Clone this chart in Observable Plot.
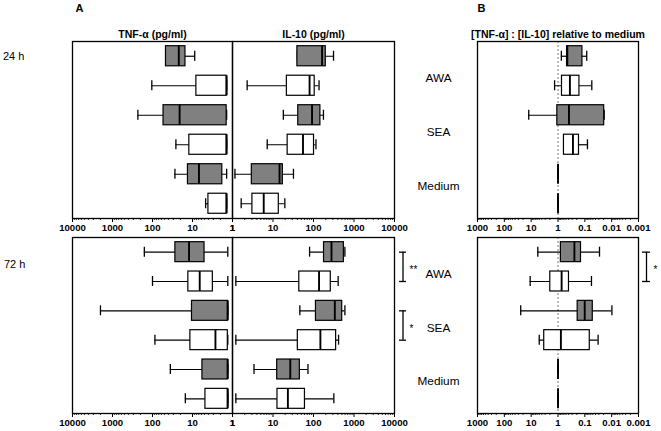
<!DOCTYPE html>
<html><head><meta charset="utf-8">
<script src="https://cdn.jsdelivr.net/npm/d3@7"></script>
<script src="https://cdn.jsdelivr.net/npm/@observablehq/plot@0.6"></script>
<style>
body{margin:0;background:#fff;}
#fig{position:relative;width:661px;height:431px;font-family:"Liberation Sans",Arial,sans-serif;color:#000;}
#fig svg [aria-label="x-axis tick label"], #fig svg [aria-label="x-axis tick label"] text{font-size:9.6px !important;font-weight:bold !important;font-family:"Liberation Sans",Arial,sans-serif !important;}
.lbl{position:absolute;white-space:nowrap;line-height:1;}
</style></head><body><div id="fig"></div>
<script>
// ---------- data ----------
const rowCondition = ["AWA","AWA","SEA","SEA","Medium","Medium"];
const rowGroup = ["Group 1","Group 2","Group 1","Group 2","Group 1","Group 2"];
const groups = ["Group 1","Group 2"];
const ticksA = [1, 10, 100, 1000, 10000];
const ticksB = [0.001, 0.01, 0.1, 1, 10, 100, 1000];
const titleTNF = "TNF-α (pg/ml)";
const titleIL10 = "IL-10 (pg/ml)";
const titleRatio = "[TNF-α] : [IL-10] relative to medium";

// 24 h, TNF-α (pg/ml)
const tnf24_lo  = [8.8, 1.4, 1.4, 1.4, 1.4, 1.4];
const tnf24_q1  = [15, 1.4, 1.4, 1.4, 1.8, 1.4];
const tnf24_med = [22, 1.4, 21, 1.4, 6.9, 1.4];
const tnf24_q3  = [46, 8.0, 53, 12, 13, 4.0];
const tnf24_hi  = [46, 104, 232, 26, 27.5, 4.7];
// 24 h, IL-10 (pg/ml)
const il24_lo  = [40, 2.3, 18, 7.2, 1.15, 1.64];
const il24_q1  = [40, 22, 42, 23, 3.0, 3.1];
const il24_med = [163, 80, 92, 55, 14.5, 5.9];
const il24_q3  = [201, 107, 148, 103, 17.5, 13.9];
const il24_hi  = [312, 137, 176, 115, 32, 19.6];
// 24 h, ratio relative to medium
const r24_lo  = [0.085, 0.055, 0.019, 0.080, 1, 1];
const r24_q1  = [0.123, 0.159, 0.019, 0.165, 1, 1];
const r24_med = [0.45, 0.36, 0.39, 0.277, 1, 1];
const r24_q3  = [0.46, 0.71, 1.06, 0.60, 1, 1];
const r24_hi  = [0.75, 1.34, 12.3, 0.60, 1, 1];
// 72 h, TNF-α (pg/ml)
const tnf72_lo  = [1.31, 1.31, 1.31, 1.31, 1.31, 1.31];
const tnf72_q1  = [5.0, 3.1, 1.31, 1.31, 1.31, 1.31];
const tnf72_med = [12.2, 6.6, 1.31, 2.67, 1.31, 1.31];
const tnf72_q3  = [26.8, 12.7, 10.3, 11.3, 5.65, 4.75];
const tnf72_hi  = [160, 100, 2000, 87, 35.8, 15.1];
// 72 h, IL-10 (pg/ml)
const il72_lo  = [80, 1.21, 46, 1.21, 3.4, 1.21];
const il72_q1  = [182, 44.6, 115, 41, 12.7, 12.9];
const il72_med = [278, 137, 336, 148, 26.7, 23.3];
const il72_q3  = [562, 267, 511, 362, 46, 61.5];
const il72_hi  = [596, 406, 596, 416, 73, 318];
// 72 h, ratio relative to medium
const r72_lo  = [0.0284, 0.0566, 0.0098, 0.032, 1, 1];
const r72_q1  = [0.139, 0.39, 0.0506, 0.0655, 1, 1];
const r72_med = [0.245, 0.733, 0.101, 0.78, 1, 1];
const r72_q3  = [0.78, 1.94, 0.185, 3.26, 1, 1];
const r72_hi  = [5.66, 10.9, 24.5, 5.0, 1, 1];

// significance brackets (rows joined, label)
const sigA72 = [{from: 0, to: 1, label: "**"}, {from: 2, to: 3, label: "*"}];
const sigB72 = [{from: 0, to: 1, label: "*"}];

// ---------- drawing ----------
const W = 661, H = 431;
const FONT = "Liberation Sans, Arial, Helvetica, sans-serif";
const fig = document.getElementById("fig");
const BOX = 0.34, CAP = 0.17;

function minorTicks(majors) {
  const out = [];
  for (let i = 0; i < majors.length - 1; i++)
    for (let k = 2; k <= 9; k++) out.push(+(majors[i] * k).toPrecision(3));
  return out;
}

function rows(lo, q1, med, q3, hi) {
  return rowCondition.map((c, i) => ({row: i, cond: c, group: rowGroup[i],
    lo: lo[i], q1: q1[i], med: med[i], q3: q3[i], hi: hi[i]}));
}

function place(svg) {
  svg.style.position = "absolute";
  svg.style.left = "0px";
  svg.style.top = "0px";
  fig.appendChild(svg);
}

function panel(data, o) {
  const ticks = o.ticks;
  const marks = [];
  if (o.dashed) marks.push(Plot.ruleX([1], {stroke: "#555", strokeWidth: 0.8, strokeDasharray: "2,2"}));
  marks.push(
    Plot.ruleY(data, {y: "row", x1: "lo", x2: "hi", stroke: "#000", strokeWidth: 1.2}),
    Plot.ruleX(data, {x: "lo", y1: d => d.row - CAP, y2: d => d.row + CAP, stroke: "#000", strokeWidth: 1.3}),
    Plot.ruleX(data, {x: "hi", y1: d => d.row - CAP, y2: d => d.row + CAP, stroke: "#000", strokeWidth: 1.3}),
    Plot.rect(data, {x1: "q1", x2: "q3", y1: d => d.row - BOX, y2: d => d.row + BOX, fill: "group", stroke: "#000", strokeWidth: 1.2}),
    Plot.ruleX(data, {x: "med", y1: d => d.row - BOX, y2: d => d.row + BOX, stroke: "#000", strokeWidth: 1.9}),
    Plot.frame({stroke: "#000", strokeWidth: 1.3}),
    Plot.axisX({ticks: minorTicks(ticks), tickFormat: () => "", tickSize: 2, label: null, strokeWidth: 0.8}),
    Plot.axisX({ticks, tickFormat: d => String(d), tickSize: 4, tickPadding: 2, label: null,
      fontSize: 9.6, fontWeight: "bold", strokeWidth: 1})
  );
  if (o.title) marks.push(Plot.text([o.title], {frameAnchor: "top", dy: -4, lineAnchor: "bottom",
    fontSize: 10.5, fontWeight: "bold"}));
  if (o.extra) marks.push(...o.extra);
  place(Plot.plot({
    width: W, height: H,
    marginLeft: o.left, marginRight: W - o.right, marginTop: o.top, marginBottom: H - o.bottom,
    x: {type: "log", domain: [ticks[0], ticks[ticks.length - 1]], reverse: !!o.reverse, axis: null},
    y: {domain: [-0.5, 5.5], reverse: true, axis: null},
    color: {domain: groups, range: ["#808080", "#ffffff"]},
    style: {background: "transparent", fontFamily: FONT, fontSize: "9px", overflow: "visible"},
    marks
  }));
}

// condition labels, evenly spaced beside the row pairs
function conditionLabels() {
  const conds = [...new Set(rowCondition)];
  return conds.map((c, k) => ({cond: c, y: 0.75 + 1.83 * k}));
}

function bracketPlot(data, left, right, top, bottom) {
  place(Plot.plot({
    width: W, height: H,
    marginLeft: left, marginRight: W - right, marginTop: top, marginBottom: H - bottom,
    x: {domain: [0, 1], axis: null},
    y: {domain: [-0.5, 5.5], reverse: true, axis: null},
    style: {background: "transparent", fontFamily: FONT, overflow: "visible"},
    marks: [
      Plot.ruleX(data, {x: () => 0.5, y1: "from", y2: "to", stroke: "#000", strokeWidth: 1.3}),
      Plot.ruleY(data, {y: "from", x1: () => 0, x2: () => 1, stroke: "#000", strokeWidth: 1.3}),
      Plot.ruleY(data, {y: "to", x1: () => 0, x2: () => 1, stroke: "#000", strokeWidth: 1.3}),
      Plot.text(data, {x: () => 1, y: d => (d.from + d.to) / 2, text: "label", textAnchor: "start",
        dx: 3, dy: 3, fontSize: 10})
    ]
  }));
}

const TOP = [41, 218], BOT = [237, 413];
const XA = [72, 232], XI = [232, 394], XB = [477, 638];

// 24 h
panel(rows(tnf24_lo, tnf24_q1, tnf24_med, tnf24_q3, tnf24_hi), {ticks: ticksA, reverse: true,
  left: XA[0], right: XA[1], top: TOP[0], bottom: TOP[1], title: titleTNF});
panel(rows(il24_lo, il24_q1, il24_med, il24_q3, il24_hi), {ticks: ticksA,
  left: XI[0], right: XI[1], top: TOP[0], bottom: TOP[1], title: titleIL10});
panel(rows(r24_lo, r24_q1, r24_med, r24_q3, r24_hi), {ticks: ticksB, reverse: true, dashed: true,
  left: XB[0], right: XB[1], top: TOP[0], bottom: TOP[1], title: titleRatio,
  extra: [Plot.text(conditionLabels(), {x: () => 1000, y: "y", text: "cond", dx: -39, fontSize: 11.8})]});
// 72 h
panel(rows(tnf72_lo, tnf72_q1, tnf72_med, tnf72_q3, tnf72_hi), {ticks: ticksA, reverse: true,
  left: XA[0], right: XA[1], top: BOT[0], bottom: BOT[1]});
panel(rows(il72_lo, il72_q1, il72_med, il72_q3, il72_hi), {ticks: ticksA,
  left: XI[0], right: XI[1], top: BOT[0], bottom: BOT[1]});
panel(rows(r72_lo, r72_q1, r72_med, r72_q3, r72_hi), {ticks: ticksB, reverse: true, dashed: true,
  left: XB[0], right: XB[1], top: BOT[0], bottom: BOT[1],
  extra: [Plot.text(conditionLabels(), {x: () => 1000, y: "y", text: "cond", dx: -39, fontSize: 11.8})]});

bracketPlot(sigA72, 399, 406, BOT[0], BOT[1]);
bracketPlot(sigB72, 642, 650, BOT[0], BOT[1]);

// panel letters and time labels
function label(text, left, top, size, weight) {
  const d = document.createElement("div");
  d.className = "lbl";
  d.textContent = text;
  d.style.left = left + "px";
  d.style.top = top + "px";
  d.style.fontSize = size + "px";
  d.style.fontWeight = weight;
  fig.appendChild(d);
}
label("A", 75.5, 2.6, 11, "bold");
label("B", 477.5, 2.6, 11, "bold");
label("24 h", 3, 50.6, 11, "normal");
label("72 h", 4, 258.6, 11, "normal");
</script></body></html>
